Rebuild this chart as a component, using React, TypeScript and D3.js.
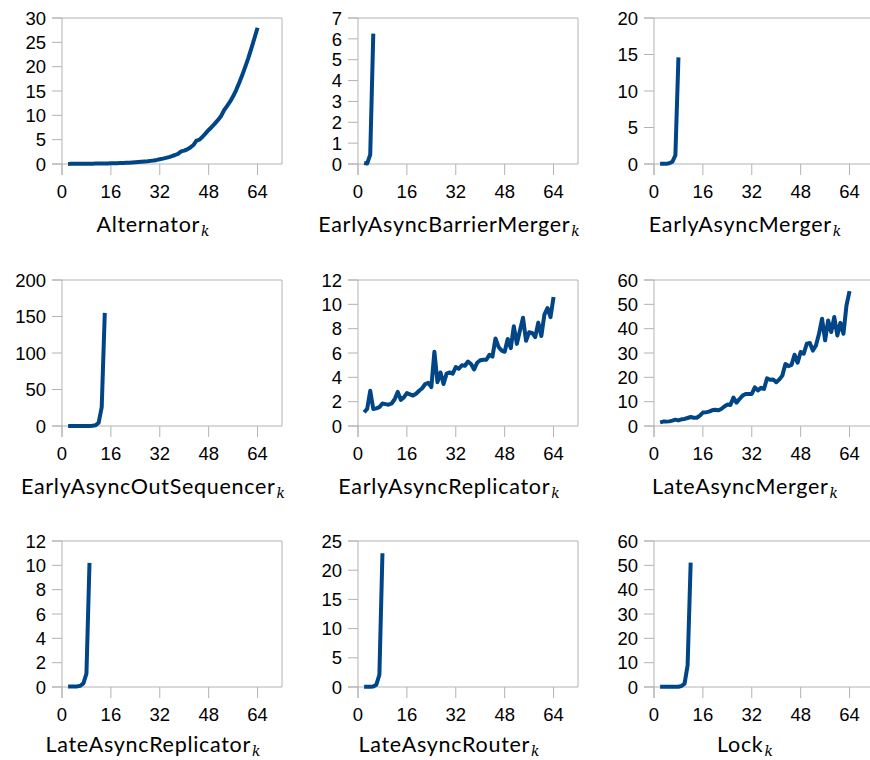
import * as React from 'react';
import { scaleLinear, line as d3Line, range } from 'd3';

// every series starts at k = 2, one value per k
const alternator = [
  0.02, 0.03, 0.03, 0.04, 0.04, 0.05, 0.05, 0.06, 0.07, 0.08, 0.09, 0.1, 0.11, 0.12,
  0.13, 0.15, 0.17, 0.19, 0.21, 0.24, 0.27, 0.31, 0.35, 0.39, 0.44, 0.5, 0.56, 0.64, 0.73, 0.84,
  0.97, 1.1, 1.25, 1.42, 1.62, 1.85, 2.1, 2.6, 2.75, 3.0, 3.4, 3.9, 4.8, 5.0, 5.6, 6.3,
  7.0, 7.6, 8.3, 9.0, 9.8, 11.0, 11.9, 12.8, 13.9, 15.2, 16.7, 18.3, 20.0, 21.8, 23.8, 25.9, 28.0,
];
const earlyAsyncBarrierMerger = [0.05, 0.02, 0.45, 6.25];
const earlyAsyncMerger = [0.02, 0.02, 0.02, 0.1, 0.3, 1.2, 14.6];
const earlyAsyncOutSequencer = [0, 0, 0, 0, 0, 0, 0, 0.1, 0.3, 1, 4.5, 26, 155];
const earlyAsyncReplicator = [
  1.13, 1.4, 2.9, 1.4, 1.45, 1.55, 1.85, 1.8, 1.75, 1.85, 2.2, 2.8, 2.15, 2.35,
  2.7, 2.6, 2.5, 2.65, 2.9, 3.1, 3.45, 3.55, 3.2, 6.1, 3.6, 4.4, 3.45, 4.3, 4.4, 4.3,
  4.85, 4.7, 5.0, 4.95, 5.3, 5.1, 4.65, 5.2, 5.4, 5.45, 5.45, 5.85, 5.7, 7.2, 6.5, 6.2,
  6.1, 7.15, 6.4, 8.2, 6.75, 7.85, 8.9, 7.0, 7.7, 7.65, 7.3, 8.5, 7.4, 9.15, 9.7, 8.95, 10.6,
];
const lateAsyncMerger = [
  1.5, 1.8, 1.8, 1.9, 2.2, 2.6, 2.3, 2.75, 2.9, 3.3, 3.7, 3.4, 3.4, 4.25,
  5.5, 5.6, 5.9, 6.45, 6.7, 6.45, 7.0, 8.0, 8.8, 8.65, 11.7, 9.6, 11.1, 12.5, 13.2, 13.2,
  13.2, 15.9, 14.6, 15.7, 15.2, 19.6, 19.0, 19.1, 18.0, 19.1, 20.7, 25.5, 24.6, 25.1, 29.3, 26.0,
  30.4, 29.7, 33.8, 34.1, 31.0, 33.1, 37.9, 44.1, 35.2, 43.4, 38.6, 44.8, 37.2, 42.4, 37.9, 49.6, 55.4,
];
const lateAsyncReplicator = [0.05, 0.05, 0.05, 0.05, 0.1, 0.3, 1.1, 10.2];
const lateAsyncRouter = [0.05, 0.05, 0.05, 0.1, 0.4, 2.1, 22.9];
const lock = [0.1, 0.1, 0.1, 0.1, 0.1, 0.1, 0.1, 0.4, 1.4, 8.9, 51.1];

const titles = [
  'Alternator', 'EarlyAsyncBarrierMerger', 'EarlyAsyncMerger',
  'EarlyAsyncOutSequencer', 'EarlyAsyncReplicator', 'LateAsyncMerger',
  'LateAsyncReplicator', 'LateAsyncRouter', 'Lock',
];
const series = [
  alternator, earlyAsyncBarrierMerger, earlyAsyncMerger,
  earlyAsyncOutSequencer, earlyAsyncReplicator, lateAsyncMerger,
  lateAsyncReplicator, lateAsyncRouter, lock,
];
const yMax = [30, 7, 20, 200, 12, 60, 12, 25, 60];
const yStep = [5, 1, 5, 50, 2, 10, 2, 5, 10];
const xTicks = [0, 16, 32, 48, 64];
const firstK = 2;

const colX = [62, 358, 654];
const rowY = [18, 280, 541];
const plotW = 220;
const plotH = 146;
const gray = '#b3b3b3';
const blue = '#004586';
const tickFont = '"Liberation Sans", Arial, sans-serif';

function Panel(props: { idx: number }) {
  const { idx } = props;
  const row = Math.floor(idx / 3);
  const left = colX[idx % 3];
  const top = rowY[row];
  const x = scaleLinear().domain([0, 72]).range([0, plotW]);
  const y = scaleLinear().domain([0, yMax[idx]]).range([plotH, 0]);
  const yTicks = range(0, yMax[idx] + yStep[idx] / 2, yStep[idx]);
  const pts = series[idx].map((v, i) => [firstK + i, v] as [number, number]);
  const path = d3Line<[number, number]>()
    .x((d) => x(d[0]))
    .y((d) => y(d[1]))(pts);
  // last row sits against the bottom edge; keep its subscript inside
  const titleY = plotH + (row === 2 ? 65 : 68);

  return <g transform={`translate(${left},${top})`}>
    {/* frame */}
    <line x1={-10} x2={plotW} y1={0} y2={0} stroke={gray} />
    <line x1={plotW} x2={plotW} y1={0} y2={plotH} stroke={gray} />
    <line x1={-10} x2={plotW} y1={plotH} y2={plotH} stroke={gray} />
    <line x1={0} x2={0} y1={0} y2={plotH + 11} stroke={gray} />
    {yTicks.map((t) => <g key={'y' + t}>
      <line x1={-10} x2={0} y1={y(t)} y2={y(t)} stroke={gray} />
      <text x={-16} y={y(t)} dy="0.36em" textAnchor="end"
        fontFamily={tickFont} fontSize={18.5} fill="#000">{t}</text>
    </g>)}
    {xTicks.map((t) => <g key={'x' + t}>
      <line x1={x(t)} x2={x(t)} y1={plotH} y2={plotH + 11} stroke={gray} />
      <text x={x(t)} y={plotH + 34} textAnchor="middle"
        fontFamily={tickFont} fontSize={18.5} fill="#000">{t}</text>
    </g>)}
    <path d={path || ''} fill="none" stroke={blue} strokeWidth={4} strokeLinejoin="round" />
    <text x={91} y={titleY} textAnchor="middle" fontFamily="Lato, sans-serif"
      fontSize={21.5} letterSpacing={0.7} fill="#000">
      {titles[idx]}
      <tspan fontFamily='"DejaVu Serif", serif' fontStyle="italic" fontSize={14}
        letterSpacing={0} dx={1} dy={3.5}>k</tspan>
    </text>
  </g>;
}

export default function App() {
  return <div>
    <style>{'body{margin:0}'}</style>
    <svg width={870} height={760} style={{ display: 'block', background: '#fff' }}>
      {titles.map((_, i) => <Panel key={i} idx={i} />)}
    </svg>
  </div>;
}
